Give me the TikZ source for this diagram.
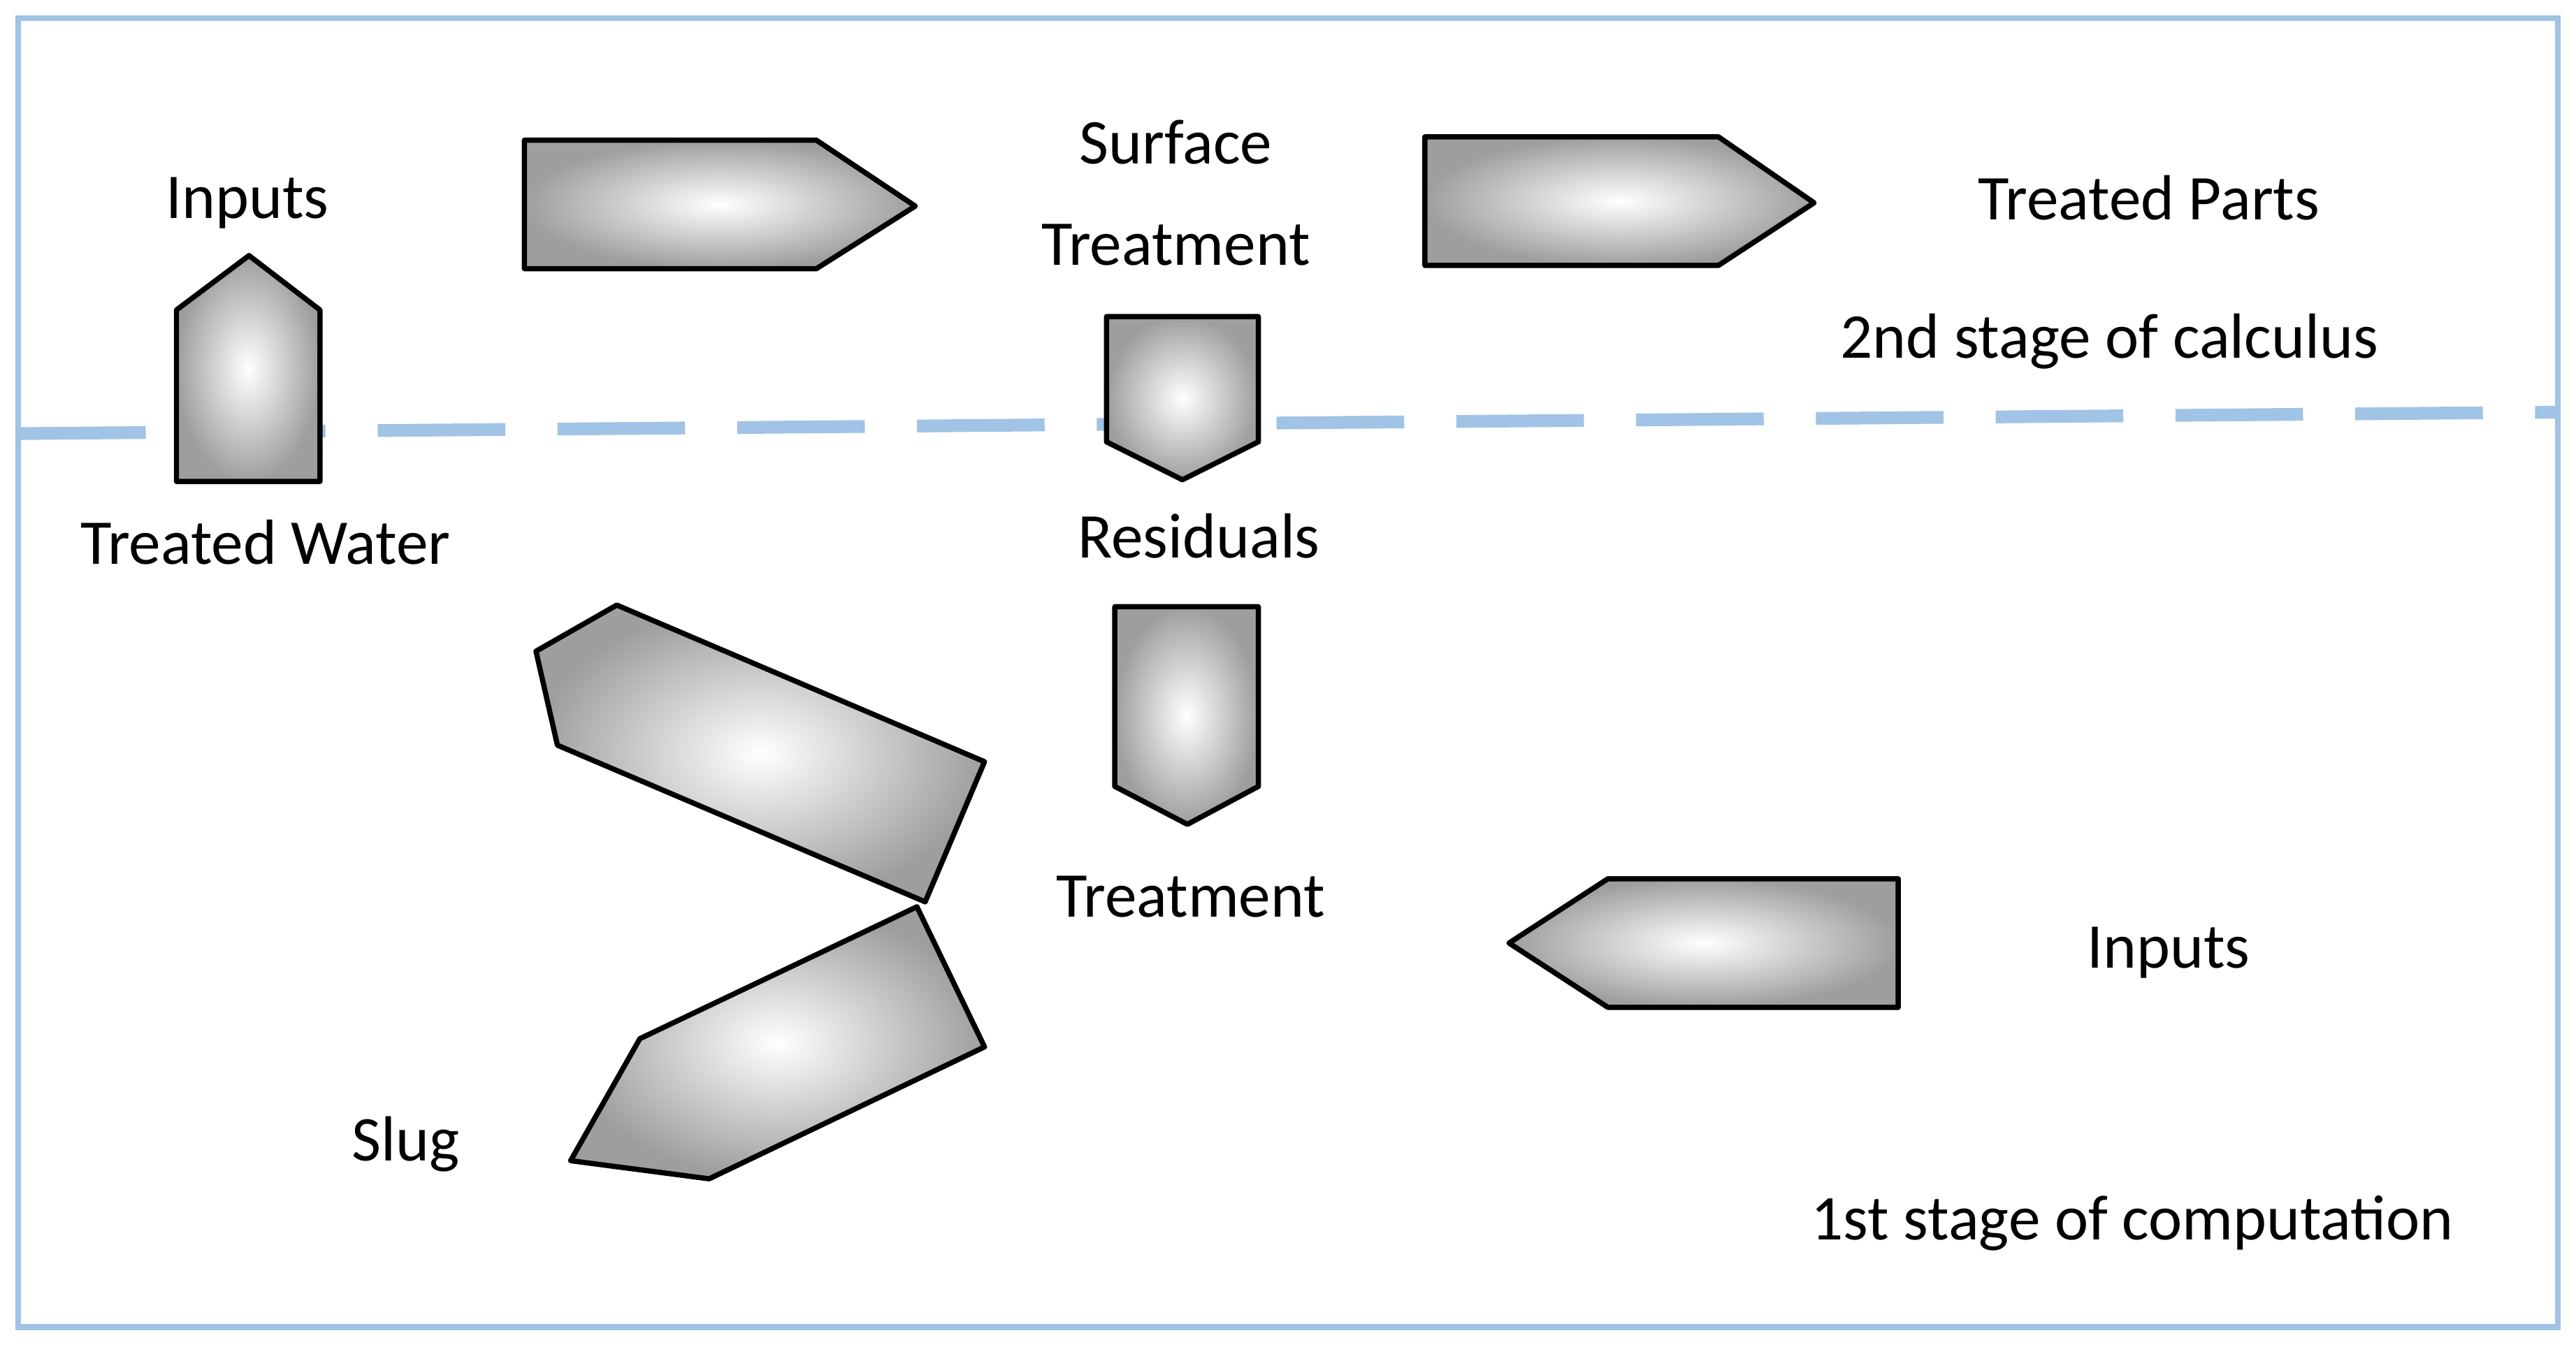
\documentclass[tikz,border=0pt]{standalone}
\usepackage{fontspec}
\setmainfont{Carlito}
\begin{document}
\begin{tikzpicture}[x=0.01cm,y=-0.01cm,
  blk/.style={draw=black,line width=0.9pt,line join=round,inner color=white,outer color=black!38},
  lbl/.style={font=\fontsize{11}{13.5}\selectfont,align=center,inner sep=0pt}]
\useasboundingbox (0,0) rectangle (1562,821);
\draw[color={rgb,255:red,160;green,195;blue,230},line width=1pt] (11,11) rectangle (1551,805);
\draw[color={rgb,255:red,160;green,195;blue,230},line width=2.2pt,dash pattern=on 22pt off 9pt] (11,263) coordinate (dl) -- (1551,250) coordinate (dr);
\shade[blk] (318,85)--(495,85)--(555,125)--(495,163)--(318,163)--cycle;
\shade[blk] (864,83)--(1042,83)--(1100,123)--(1042,161)--(864,161)--cycle;
\shade[blk] (107,292)--(107,188)--(151,155)--(194,188)--(194,292)--cycle;
\shade[blk] (671,192)--(763,192)--(763,268)--(717,291)--(671,268)--cycle;
\shade[blk] (676,368)--(763,368)--(763,477)--(720,500)--(676,477)--cycle;
\shade[blk] (325,395)--(374,367)--(597,462)--(561,547)--(338,452)--cycle;
\shade[blk] (556,550)--(597,635)--(430,715)--(346,704)--(388,630)--cycle;
\shade[blk] (915,572)--(975,533)--(1151,533)--(1151,611)--(975,611)--cycle;
\node[lbl] (in1) at (150,123) {Inputs};
\node[lbl] (st) at (713,117) {Surface\\[4pt]Treatment};
\node[lbl] (tp) at (1303,120) {Treated Parts};
\node[lbl] (s2) at (1279,207) {2nd stage of calculus};
\node[lbl] (tw) at (161,329) {Treated Water};
\node[lbl] (re) at (727,325) {Residuals};
\node[lbl] (tr) at (722,544) {Treatment};
\node[lbl] (in2) at (1315,578) {Inputs};
\node[lbl] (sl) at (246,694) {Slug};
\node[lbl] (s1) at (1293,742) {1st stage of computation};
\end{tikzpicture}
\end{document}
